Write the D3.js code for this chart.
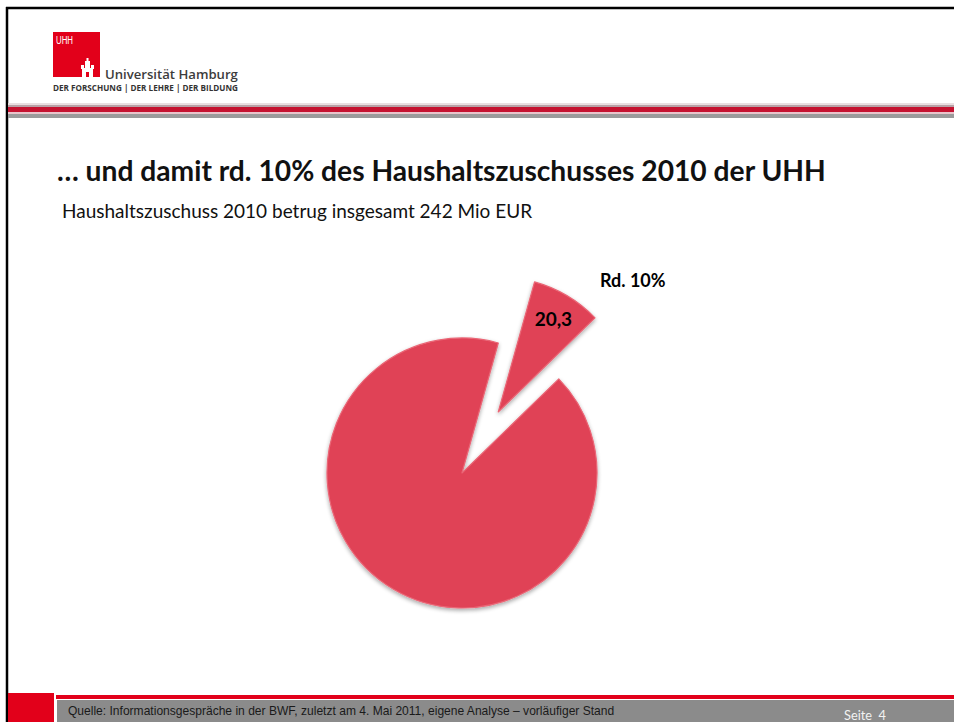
<!DOCTYPE html>
<html>
<head>
<meta charset="utf-8">
<script src="https://cdn.jsdelivr.net/npm/d3@7"></script>
<style>
  html, body { margin: 0; padding: 0; background: #fff; }
  svg { display: block; }
</style>
</head>
<body>
<svg id="chart" width="954" height="722"></svg>
<script>
// data
const segments = ["UHH-Anteil", "Rest Haushaltszuschuss"];
const values = [20.3, 221.7];          // Mio EUR, total 242
const valueLabels = ["20,3", ""];
const shareLabel = "Rd. 10%";

const titleText = "… und damit rd. 10% des Haushaltszuschusses 2010 der UHH";
const subtitleText = "Haushaltszuschuss 2010 betrug insgesamt 242 Mio EUR";
const sourceText = "Quelle: Informationsgespräche in der BWF, zuletzt am 4. Mai 2011, eigene Analyse – vorläufiger Stand";
const pageText = "Seite  4";

const W = 954, H = 722;
const red = "#e2001a";
const pieRed = "#e04357";
const svg = d3.select("#chart");

// shrink/grow font so the text takes a given width
function fit(sel, width) {
  const len = sel.node().getComputedTextLength();
  const fs = parseFloat(sel.attr("font-size"));
  sel.attr("font-size", (fs * width / len).toFixed(2));
  return sel;
}

const defs = svg.append("defs");
const shadow = defs.append("filter").attr("id", "shadow")
  .attr("x", "-20%").attr("y", "-20%").attr("width", "140%").attr("height", "140%");
shadow.append("feGaussianBlur").attr("in", "SourceAlpha").attr("stdDeviation", 2).attr("result", "b");
shadow.append("feOffset").attr("in", "b").attr("dx", 0).attr("dy", 2).attr("result", "o");
shadow.append("feComponentTransfer").attr("in", "o").attr("result", "s")
  .append("feFuncA").attr("type", "linear").attr("slope", 0.35);
const sm = shadow.append("feMerge");
sm.append("feMergeNode").attr("in", "s");
sm.append("feMergeNode").attr("in", "SourceGraphic");

// frame
svg.append("rect").attr("x", 0).attr("y", 0).attr("width", W).attr("height", H).attr("fill", "#fff");
svg.append("line").attr("x1", 6).attr("x2", W).attr("y1", 8).attr("y2", 8)
  .attr("stroke", "#000").attr("stroke-width", 2.5);
svg.append("line").attr("x1", 7).attr("x2", 7).attr("y1", 7).attr("y2", H)
  .attr("stroke", "#000").attr("stroke-width", 2.5);

// header stripes
const stripes = [
  { y: 103, h: 2, c: "#e9dfe1" },
  { y: 105, h: 2, c: "#b9a2a7" },
  { y: 107, h: 5, c: "#c51230" },
  { y: 112, h: 2, c: "#e9c4cb" },
  { y: 114, h: 4, c: "#9b9b9b" }
];
svg.append("g").selectAll("rect").data(stripes).join("rect")
  .attr("x", 8).attr("width", W - 8)
  .attr("y", d => d.y).attr("height", d => d.h).attr("fill", d => d.c);

// logo
const logo = svg.append("g");
logo.append("rect").attr("x", 53).attr("y", 32).attr("width", 47).attr("height", 45).attr("fill", red);
logo.append("text").attr("x", 56).attr("y", 44).attr("fill", "#fff")
  .attr("font-family", "Arial, 'Liberation Sans', sans-serif").attr("font-size", 10)
  .attr("textLength", 17).attr("lengthAdjust", "spacingAndGlyphs").text("UHH");
// little castle
const castle = logo.append("g").attr("fill", "#fff");
castle.append("rect").attr("x", 82).attr("y", 68).attr("width", 11).attr("height", 9);
castle.append("rect").attr("x", 81).attr("y", 65).attr("width", 3).attr("height", 4);
castle.append("rect").attr("x", 91).attr("y", 65).attr("width", 3).attr("height", 4);
castle.append("rect").attr("x", 85).attr("y", 61).attr("width", 5).attr("height", 8);
castle.append("rect").attr("x", 86.5).attr("y", 58).attr("width", 2).attr("height", 4);
castle.append("rect").attr("x", 86).attr("y", 72).attr("width", 3).attr("height", 5).attr("fill", red);
logo.append("text").attr("x", 105).attr("y", 79).attr("fill", "#3c3c3c")
  .attr("font-family", "'Open Sans', sans-serif").attr("font-weight", 600).attr("font-size", 14)
  .text("Universität Hamburg").call(fit, 133);
logo.append("text").attr("x", 53).attr("y", 91).attr("fill", "#333")
  .attr("font-family", "'Open Sans', sans-serif").attr("font-weight", 700).attr("font-size", 6)
  .text("DER FORSCHUNG  |  DER LEHRE  |  DER BILDUNG").call(fit, 185);

// titles
svg.append("text").attr("x", 57).attr("y", 181).attr("fill", "#111")
  .attr("font-family", "Lato, 'Open Sans', sans-serif").attr("font-weight", 700).attr("font-size", 25)
  .text(titleText).call(fit, 769);
svg.append("text").attr("x", 62).attr("y", 218).attr("fill", "#111")
  .attr("font-family", "Lato, 'Open Sans', sans-serif").attr("font-size", 20)
  .text(subtitleText).call(fit, 470);

// pie
const cx = 462, cy = 473, r = 135, explode = 71;
const start = 15.6 * Math.PI / 180;
const pie = d3.pie().sort(null).startAngle(start).endAngle(start + 2 * Math.PI);
const arcs = pie(values);
const arc = d3.arc().innerRadius(0).outerRadius(r);
const labelArc = d3.arc().innerRadius(r * 0.8).outerRadius(r * 0.8);

function offset(d) {
  if (d.index !== 0) return [0, 0];
  const a = (d.startAngle + d.endAngle) / 2;
  return [explode * Math.sin(a), -explode * Math.cos(a)];
}

const g = svg.append("g").attr("transform", `translate(${cx},${cy})`);
const slices = g.selectAll("g.slice").data(arcs).join("g")
  .attr("class", "slice")
  .attr("transform", d => `translate(${offset(d)})`);
slices.append("path")
  .attr("d", arc)
  .attr("fill", pieRed)
  .attr("stroke", "#ea6676").attr("stroke-width", 1.2).attr("stroke-linejoin", "round")
  .attr("filter", "url(#shadow)");
slices.append("text")
  .attr("transform", d => `translate(${labelArc.centroid(d)})`)
  .attr("text-anchor", "middle").attr("dy", "0.35em")
  .attr("font-family", "Lato, 'Open Sans', sans-serif").attr("font-weight", 700).attr("font-size", 19)
  .attr("fill", "#000")
  .text((d, i) => valueLabels[i]);

// share annotation, just outside the exploded slice
const first = arcs[0];
const outer = d3.arc().innerRadius(r * 1.39).outerRadius(r * 1.39)
  .startAngle(first.endAngle).endAngle(first.endAngle);
const [ox, oy] = offset(first);
const [ax, ay] = outer.centroid();
g.append("text")
  .attr("x", ox + ax).attr("y", oy + ay)
  .attr("text-anchor", "middle").attr("dy", "0.35em")
  .attr("font-family", "Lato, 'Open Sans', sans-serif").attr("font-weight", 700).attr("font-size", 18)
  .attr("fill", "#000")
  .text(shareLabel);

// footer
svg.append("rect").attr("x", 8).attr("y", 693).attr("width", 46).attr("height", H - 693).attr("fill", red);
svg.append("rect").attr("x", 56).attr("y", 695).attr("width", W - 56).attr("height", 4).attr("fill", red);
svg.append("rect").attr("x", 57).attr("y", 700).attr("width", W - 57).attr("height", H - 700).attr("fill", "#8b8b8b");
svg.append("text").attr("x", 68).attr("y", 715).attr("fill", "#1a1a1a")
  .attr("font-family", "'Liberation Sans Narrow', 'Arial Narrow', 'Liberation Sans', sans-serif")
  .attr("font-size", 11.5)
  .text(sourceText).call(fit, 547);
svg.append("text").attr("x", 844).attr("y", 720).attr("fill", "#f2f2f2")
  .attr("font-family", "Lato, 'Open Sans', sans-serif").attr("font-size", 12)
  .attr("xml:space", "preserve").style("white-space", "pre")
  .text(pageText).call(fit, 42);
</script>
</body>
</html>
